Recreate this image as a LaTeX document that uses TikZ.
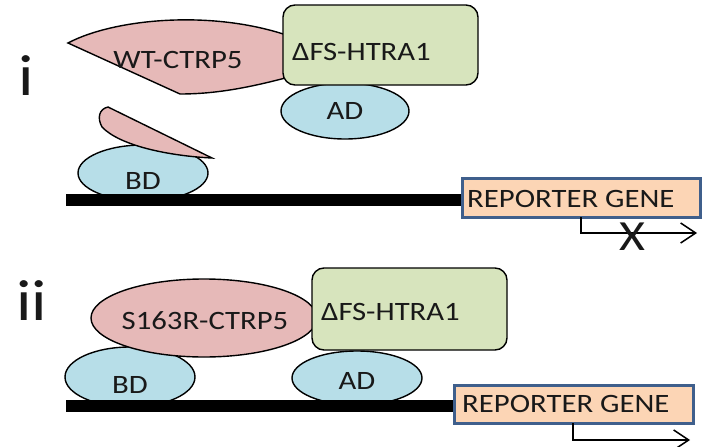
\documentclass[tikz,border=0pt]{standalone}
\usepackage{fontspec}
\setmainfont[FakeStretch=1.16]{Carlito}
\usetikzlibrary{shapes.geometric,arrows.meta}
\definecolor{pinkc}{HTML}{E6B9B8}
\definecolor{greenc}{HTML}{D7E4BD}
\definecolor{bluec}{HTML}{B7DEE8}
\definecolor{peachc}{HTML}{FCD5B5}
\definecolor{repborder}{HTML}{3F5F8C}
\tikzset{
  outl/.style={draw=black, line width=1.4pt},
  pinkshape/.style={outl, fill=pinkc},
  protdom/.style={outl, fill=bluec, ellipse, inner sep=0pt},
  htra/.style={outl, fill=greenc, rounded corners=12pt, inner sep=0pt},
  lbl/.style={font=\fontsize{26.5}{30}\selectfont, inner sep=0pt, text=black!90},
  panel/.style={font=\fontsize{58}{64}\selectfont, inner sep=0pt, text=black!90},
  dna/.style={fill=black, draw=none},
  reporter/.style={draw=repborder, line width=3pt, fill=peachc, inner sep=0pt},
  tss/.style={line width=1.5pt, -{Straight Barb[length=15pt,width=20pt,line width=1.5pt]}},
}
\begin{document}
\begin{tikzpicture}[x=1pt,y=-1pt]
\useasboundingbox (0,0) rectangle (704,447);
% ---------------- panel i ----------------
\node[panel, anchor=base] (pi) at (26,95) {i};
% WT-CTRP5 shape
\draw[pinkshape] (68,43) .. controls (115,18) and (220,8) .. (300,40)
   -- (300,74) .. controls (250,88) and (215,94) .. (180,94) -- cycle;
\node[lbl] (wt) at (178,60) {WT-CTRP5};
% AD i
\node[protdom, minimum width=128pt, minimum height=56pt] (adi) at (345,111) {};
\node[lbl] (adit) at (345,111) {AD};
% HTRA1 box i
\node[htra, minimum width=195pt, minimum height=80pt] (hti) at (380.5,45) {};
\node[lbl, anchor=west] (htit) at (292,52) {ΔFS-HTRA1};
% BD i
\node[protdom, minimum width=130pt, minimum height=56pt] (bdi) at (143,173) {};
\node[lbl] (bdit) at (143,181) {BD};
% fragment
\draw[pinkshape] (108,107) -- (212,158) .. controls (170,156) and (120,146) .. (102,127)
   .. controls (97,118) and (99,109) .. cycle;
% DNA i
\path[dna] (66,194) rectangle (463,206);
\node[reporter, minimum width=238pt, minimum height=39pt] (repi) at (581,197.5) {};
\node[lbl, anchor=west] (repit) at (467,199) {REPORTER GENE};
\coordinate (tssi) at (581,217);
\coordinate (tssiend) at (697,233);
\draw[tss] (tssi) |- (tssiend);
\node[lbl, font=\fontsize{43}{48}\selectfont] (xi) at (632,237) {X};
% ---------------- panel ii ----------------
\node[panel, anchor=base] (pii) at (32,320) {ii};
% BD ii
\node[protdom, minimum width=130pt, minimum height=60pt] (bdii) at (130,377) {};
\node[lbl] (bdiit) at (130,385) {BD};
% S163R
\node[protdom, fill=pinkc, minimum width=226pt, minimum height=78pt] (s163) at (204,318) {};
\node[lbl] (s163t) at (205,321) {S163R-CTRP5};
% AD ii
\node[protdom, minimum width=130pt, minimum height=54pt] (adii) at (357,378) {};
\node[lbl] (adiit) at (357,381) {AD};
% HTRA1 box ii
\node[htra, minimum width=195pt, minimum height=82pt] (htii) at (409.5,309) {};
\node[lbl, anchor=west] (htiit) at (321,312) {ΔFS-HTRA1};
% DNA ii
\path[dna] (66,400) rectangle (455,412);
\node[reporter, minimum width=239pt, minimum height=38pt] (repii) at (573.5,404) {};
\node[lbl, anchor=west] (repiit) at (462,404) {REPORTER GENE};
\coordinate (tssii) at (573,423);
\coordinate (tssiiend) at (690,440);
\draw[tss] (tssii) |- (tssiiend);
\end{tikzpicture}
\end{document}
